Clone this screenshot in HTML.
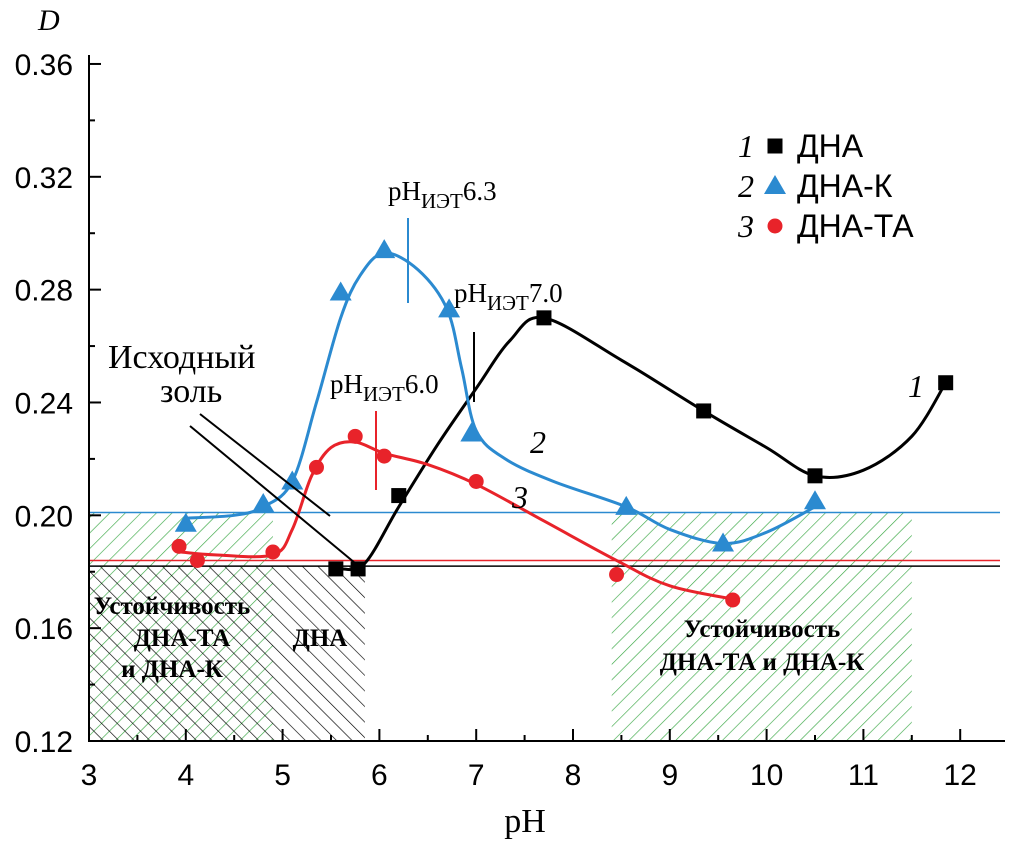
<!DOCTYPE html>
<html><head><meta charset="utf-8"><style>
body{margin:0;background:#fff}
svg{display:block;font-family:"Liberation Serif",serif}
</style></head><body>
<svg id="chart" width="1010" height="843" viewBox="0 0 1010 843" xmlns="http://www.w3.org/2000/svg">
<defs>
<pattern id="hg" patternUnits="userSpaceOnUse" width="11" height="11" patternTransform="rotate(45)"><line x1="0" y1="0" x2="0" y2="11" stroke="#3aa845" stroke-width="1.3"/></pattern>
<pattern id="hb" patternUnits="userSpaceOnUse" width="11" height="11" patternTransform="rotate(-45)"><line x1="0" y1="0" x2="0" y2="11" stroke="#000" stroke-width="1.3"/></pattern>
</defs>
<g id="regions"></g>
<g id="axes"></g>
<g id="series"></g>
<g id="labels"></g>
</svg>
<script>
const xTicks=[3,4,5,6,7,8,9,10,11,12];
const yTicks=[0.12,0.16,0.20,0.24,0.28,0.32,0.36];
const yTickLabels=["0.12","0.16","0.20","0.24","0.28","0.32","0.36"];
const dnaX=[5.55,5.78,6.2,7.7,9.35,10.5,11.85];
const dnaY=[0.181,0.181,0.207,0.270,0.237,0.214,0.247];
const dnakX=[4.0,4.8,5.1,5.6,6.05,6.72,6.95,8.55,9.55,10.5];
const dnakY=[0.197,0.204,0.212,0.279,0.294,0.273,0.229,0.203,0.190,0.205];
const dnataX=[3.93,4.12,4.9,5.35,5.75,6.05,7.0,8.45,9.65];
const dnataY=[0.189,0.184,0.187,0.217,0.228,0.221,0.212,0.179,0.170];
const dnaFitX=[5.6,5.85,6.2,6.6,7.0,7.35,7.7,8.5,9.35,10.0,10.5,11.0,11.5,11.85];
const dnaFitY=[0.181,0.183,0.203,0.225,0.245,0.262,0.270,0.255,0.237,0.224,0.214,0.216,0.228,0.247];
const dnakFitX=[4.0,4.5,4.8,5.1,5.35,5.6,5.8,6.05,6.4,6.7,6.85,7.0,7.3,7.8,8.55,9.0,9.55,10.0,10.5];
const dnakFitY=[0.199,0.200,0.203,0.212,0.240,0.270,0.285,0.293,0.287,0.273,0.252,0.230,0.220,0.212,0.203,0.195,0.190,0.194,0.203];
const dnataFitX=[3.95,4.3,4.9,5.1,5.3,5.5,5.75,6.05,6.5,7.0,7.7,8.45,9.0,9.7];
const dnataFitY=[0.187,0.186,0.186,0.195,0.214,0.224,0.226,0.222,0.218,0.211,0.198,0.184,0.175,0.170];
const refLevels=[0.201,0.184,0.182];
const refColors=["#2b8ad0","#e8232a","#000"];

const X=v=>89+(v-3)*96.8, Y=v=>741-(v-0.12)*2821;
const NS="http://www.w3.org/2000/svg";
function mk(tag,attrs,parent,text){const e=document.createElementNS(NS,tag);for(const k in attrs)e.setAttribute(k,attrs[k]);if(text!==undefined)e.textContent=text;document.getElementById(parent).appendChild(e);return e;}
function smooth(xs,ys){const p=xs.map((x,i)=>[X(x),Y(ys[i])]);let d=`M${p[0][0]},${p[0][1]}`;for(let i=0;i<p.length-1;i++){const p0=p[i-1]||p[i],p1=p[i],p2=p[i+1],p3=p[i+2]||p2;d+=` C${p1[0]+(p2[0]-p0[0])/6},${p1[1]+(p2[1]-p0[1])/6} ${p2[0]-(p3[0]-p1[0])/6},${p2[1]-(p3[1]-p1[1])/6} ${p2[0]},${p2[1]}`;}return d;}

let e;
e=mk('rect',{x:X(3),y:Y(0.201),width:X(4.9)-X(3),height:Y(0.12)-Y(0.201),fill:'url(#hg)'},'regions');

e=mk('rect',{x:X(3),y:Y(0.182),width:X(5.85)-X(3),height:Y(0.12)-Y(0.182),fill:'url(#hb)'},'regions');

e=mk('rect',{x:X(8.4),y:Y(0.201),width:X(11.5)-X(8.4),height:Y(0.12)-Y(0.201),fill:'url(#hg)'},'regions');

refLevels.forEach((v,i)=>{e=mk('line',{x1:X(3),x2:1000,y1:Y(v),y2:Y(v),stroke:refColors[i],'stroke-width':1.5},'regions');
});

e=mk('path',{d:`M${X(3)},55 V${Y(0.12)} H1005`,stroke:'#000','stroke-width':2,fill:'none'},'axes');

xTicks.forEach(t=>{mk('line',{x1:X(t),x2:X(t),y1:Y(0.12),y2:Y(0.12)-12,stroke:'#000','stroke-width':2},'axes');
if(t<12)mk('line',{x1:X(t+0.5),x2:X(t+0.5),y1:Y(0.12),y2:Y(0.12)-6,stroke:'#000','stroke-width':2},'axes');
e=mk('text',{x:X(t),y:785,'font-size':30,'text-anchor':'middle','font-family':'Liberation Sans, sans-serif'},'axes',String(t));
});
yTicks.forEach((t,i)=>{mk('line',{x1:X(3),x2:X(3)+12,y1:Y(t),y2:Y(t),stroke:'#000','stroke-width':2},'axes');
if(i<yTicks.length-1)mk('line',{x1:X(3),x2:X(3)+6,y1:Y(t+0.02),y2:Y(t+0.02),stroke:'#000','stroke-width':2},'axes');
e=mk('text',{x:73,y:Y(t)+11,'font-size':30,'text-anchor':'end','font-family':'Liberation Sans, sans-serif'},'axes',yTickLabels[i]);
});
e=mk('text',{x:525,y:832,'font-size':34,'text-anchor':'middle'},'axes','pH');
e=mk('text',{x:38,y:30,'font-size':30,'font-style':'italic'},'axes','D');

function series(fx,fy,px,py,col,shape,name){
 e=mk('path',{d:smooth(fx,fy),stroke:col,'stroke-width':3,fill:'none'},'series');
 
 px.forEach((x,i)=>{const cx=X(x),cy=Y(py[i]);
  if(shape==='sq')e=mk('rect',{x:cx-7.5,y:cy-7.5,width:15,height:15,fill:col},'series');
  else if(shape==='tri')e=mk('polygon',{points:`${cx},${cy-11} ${cx+11},${cy+8} ${cx-11},${cy+8}`,fill:col},'series');
  else e=mk('circle',{cx,cy,r:7.5,fill:col},'series');
  });
}
series(dnaFitX,dnaFitY,dnaX,dnaY,'#000','sq','dna');
series(dnakFitX,dnakFitY,dnakX,dnakY,'#2b8ad0','tri','dna-k');
series(dnataFitX,dnataFitY,dnataX,dnataY,'#e8232a','circ','dna-ta');

function txt(x,y,s,t,extra,name){e=mk('text',Object.assign({x,y,'font-size':s},extra||{}),'labels');e.innerHTML=t;}
function ln(x1,y1,x2,y2,c,name){e=mk('line',{x1,y1,x2,y2,stroke:c,'stroke-width':2},'labels');}
ln(408,218,408,303,'#2b8ad0','iep-marker-dna-k');
ln(474,332,474,402,'#000','iep-marker-dna');
ln(376,411,376,490,'#e8232a','iep-marker-dna-ta');
txt(388,200,27,'pH<tspan font-size="21" dy="8">ИЭТ</tspan><tspan dy="-8">6.3</tspan>',{},'iep-label-dna-k');
txt(454,302,27,'pH<tspan font-size="21" dy="8">ИЭТ</tspan><tspan dy="-8">7.0</tspan>',{},'iep-label-dna');
txt(330,393,27,'pH<tspan font-size="21" dy="8">ИЭТ</tspan><tspan dy="-8">6.0</tspan>',{},'iep-label-dna-ta');
txt(108,368,34,'Исходный',{},'initial-sol-label');
txt(160,402,34,'золь',{},'initial-sol-label-2');
ln(200,414,330,516,'#000','initial-sol-pointer');
ln(190,426,355,563,'#000','initial-sol-pointer-2');
txt(908,397,32,'1',{'font-style':'italic'},'curve-label-1');
txt(530,453,32,'2',{'font-style':'italic'},'curve-label-2');
txt(512,508,32,'3',{'font-style':'italic'},'curve-label-3');
txt(172,614,25,'Устойчивость',{'font-weight':'bold','text-anchor':'middle'},'stability-label-left');
txt(182,646,25,'ДНА-ТА',{'font-weight':'bold','text-anchor':'middle'},'stability-label-left-2');
txt(172,677,25,'и ДНА-К',{'font-weight':'bold','text-anchor':'middle'},'stability-label-left-3');
txt(320,646,25,'ДНА',{'font-weight':'bold','text-anchor':'middle'},'stability-label-dna');
txt(762,637,25,'Устойчивость',{'font-weight':'bold','text-anchor':'middle'},'stability-label-right');
txt(762,670,25,'ДНА-ТА и ДНА-К',{'font-weight':'bold','text-anchor':'middle'},'stability-label-right-2');
const legY=[157,197,237],legT=['ДНА','ДНА-К','ДНА-ТА'],legN=['1','2','3'];
legY.forEach((y,i)=>{txt(738,y,32,legN[i],{'font-style':'italic'},'legend-number');
 const cx=775,cy=y-11;
 if(i===0)e=mk('rect',{x:cx-7.5,y:cy-7.5,width:15,height:15,fill:'#000'},'labels');
 else if(i===1)e=mk('polygon',{points:`${cx},${cy-11} ${cx+11},${cy+8} ${cx-11},${cy+8}`,fill:'#2b8ad0'},'labels');
 else e=mk('circle',{cx,cy,r:7.5,fill:'#e8232a'},'labels');
 
 txt(797,y,32,legT[i],{'font-family':'Liberation Sans, sans-serif'},'legend-entry');});
</script>
</body></html>
